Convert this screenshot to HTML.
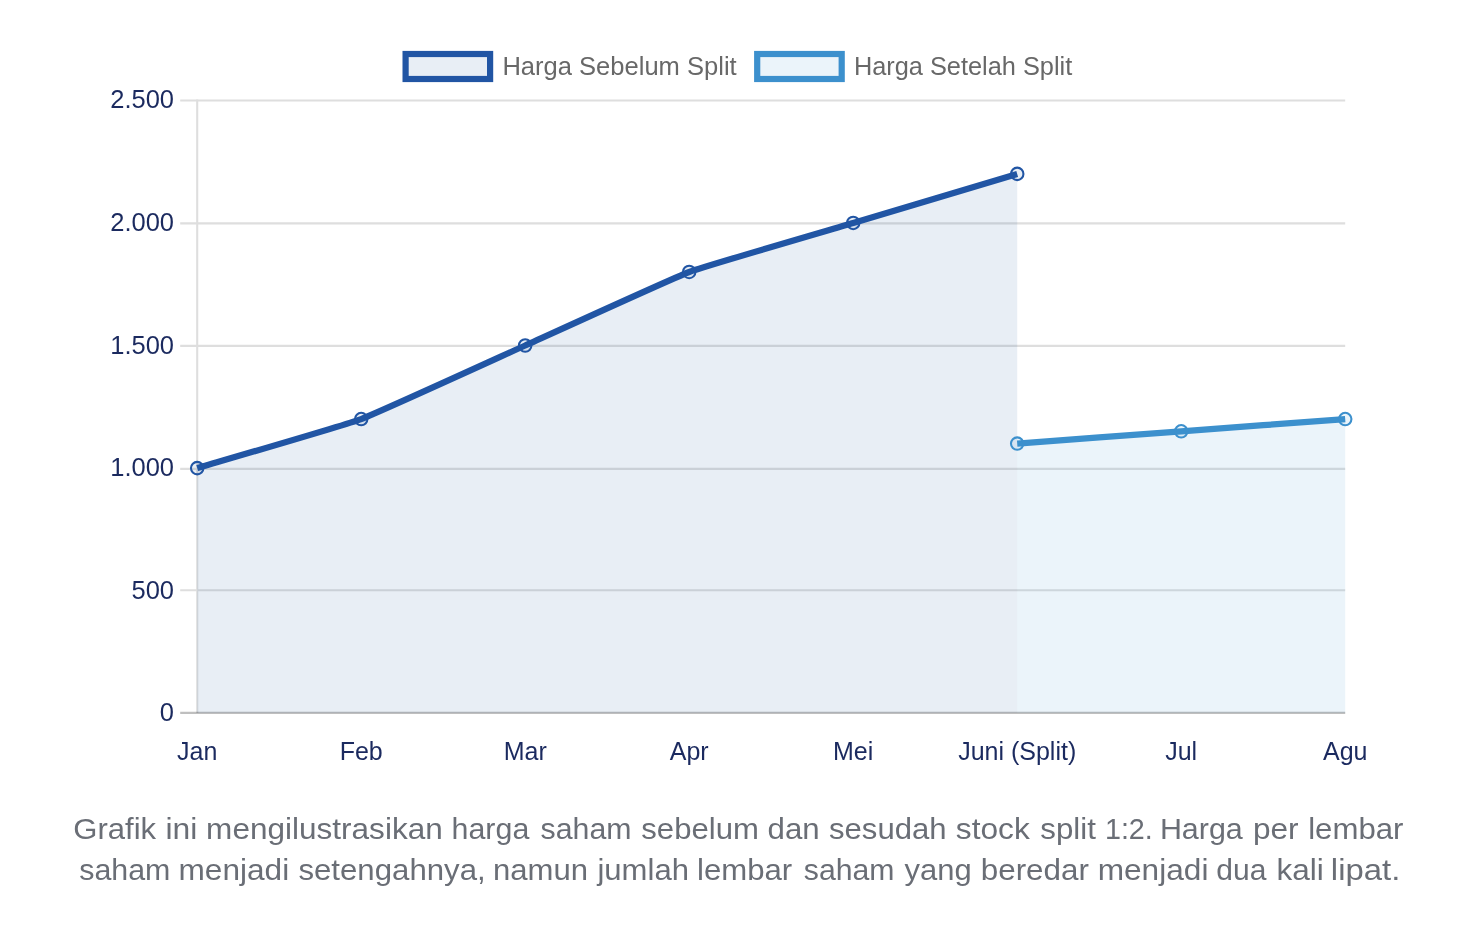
<!DOCTYPE html>
<html lang="id"><head><meta charset="utf-8"><title>Grafik Harga Saham Sebelum dan Sesudah Stock Split</title>
<style>
html,body{margin:0;padding:0;background:#fff;}
body{width:1476px;height:940px;overflow:hidden;}
svg{display:block;}
.tk{font-family:"Liberation Sans",Arial,Helvetica,sans-serif;font-size:25px;fill:#1b2a5f;}
.lg{font-family:"Liberation Sans",Arial,Helvetica,sans-serif;font-size:25px;fill:#686868;}
.cap{font-family:"Liberation Sans",Arial,Helvetica,sans-serif;font-size:30px;fill:#6a6e76;}
</style></head><body>
<svg width="1476" height="940" viewBox="0 0 1476 940">
<line x1="180.2" y1="590.30" x2="1345.20" y2="590.30" stroke="#dedede" stroke-width="2.08"/>
<line x1="180.2" y1="468.90" x2="1345.20" y2="468.90" stroke="#dedede" stroke-width="2.08"/>
<line x1="180.2" y1="345.90" x2="1345.20" y2="345.90" stroke="#dedede" stroke-width="2.08"/>
<line x1="180.2" y1="223.40" x2="1345.20" y2="223.40" stroke="#dedede" stroke-width="2.08"/>
<line x1="180.2" y1="100.45" x2="1345.20" y2="100.45" stroke="#dedede" stroke-width="2.08"/>
<line x1="197.20" y1="99.41" x2="197.20" y2="712.90" stroke="#dedede" stroke-width="2.08"/>
<path d="M1017.20,443.58 C1033.60,442.36 1164.80,432.55 1181.20,431.32 C1197.60,430.10 1328.80,420.29 1345.20,419.07 L1345.20,712.90 L1017.20,712.90 Z" fill="rgba(60,144,205,0.1)"/>
<path d="M197.20,468.10 C213.60,463.20 345.20,425.05 361.20,419.07 C378.00,412.79 508.80,352.87 525.20,345.51 C541.60,338.16 672.40,278.24 689.20,271.96 C705.20,265.98 836.80,227.83 853.20,222.93 C869.60,218.03 1000.80,178.80 1017.20,173.90 L1017.20,712.90 L197.20,712.90 Z" fill="rgba(34,84,160,0.1)"/>
<line x1="180.2" y1="712.90" x2="1345.20" y2="712.90" stroke="rgba(0,0,0,0.25)" stroke-width="2.08"/>
<path d="M1017.20,443.58 C1033.60,442.36 1164.80,432.55 1181.20,431.32 C1197.60,430.10 1328.80,420.29 1345.20,419.07" fill="none" stroke="#3c90cd" stroke-width="6.24" stroke-linejoin="miter" stroke-linecap="butt"/>
<path d="M197.20,468.10 C213.60,463.20 345.20,425.05 361.20,419.07 C378.00,412.79 508.80,352.87 525.20,345.51 C541.60,338.16 672.40,278.24 689.20,271.96 C705.20,265.98 836.80,227.83 853.20,222.93 C869.60,218.03 1000.80,178.80 1017.20,173.90" fill="none" stroke="#2155a4" stroke-width="6.24" stroke-linejoin="miter" stroke-linecap="butt"/>
<circle cx="1017.20" cy="443.58" r="6.24" fill="rgba(60,144,205,0.1)" stroke="#3c90cd" stroke-width="2.08"/>
<circle cx="1181.20" cy="431.32" r="6.24" fill="rgba(60,144,205,0.1)" stroke="#3c90cd" stroke-width="2.08"/>
<circle cx="1345.20" cy="419.07" r="6.24" fill="rgba(60,144,205,0.1)" stroke="#3c90cd" stroke-width="2.08"/>
<circle cx="197.20" cy="468.10" r="6.24" fill="rgba(34,84,160,0.1)" stroke="#2155a4" stroke-width="2.08"/>
<circle cx="361.20" cy="419.07" r="6.24" fill="rgba(34,84,160,0.1)" stroke="#2155a4" stroke-width="2.08"/>
<circle cx="525.20" cy="345.51" r="6.24" fill="rgba(34,84,160,0.1)" stroke="#2155a4" stroke-width="2.08"/>
<circle cx="689.20" cy="271.96" r="6.24" fill="rgba(34,84,160,0.1)" stroke="#2155a4" stroke-width="2.08"/>
<circle cx="853.20" cy="222.93" r="6.24" fill="rgba(34,84,160,0.1)" stroke="#2155a4" stroke-width="2.08"/>
<circle cx="1017.20" cy="173.90" r="6.24" fill="rgba(34,84,160,0.1)" stroke="#2155a4" stroke-width="2.08"/>
<text x="174.02" y="721.27" text-anchor="end" class="tk" textLength="14.18" lengthAdjust="spacingAndGlyphs">0</text>
<text x="174.02" y="598.68" text-anchor="end" class="tk" textLength="42.55" lengthAdjust="spacingAndGlyphs">500</text>
<text x="174.02" y="476.10" text-anchor="end" class="tk" textLength="63.81" lengthAdjust="spacingAndGlyphs">1.000</text>
<text x="174.02" y="353.51" text-anchor="end" class="tk" textLength="63.81" lengthAdjust="spacingAndGlyphs">1.500</text>
<text x="174.02" y="230.93" text-anchor="end" class="tk" textLength="63.81" lengthAdjust="spacingAndGlyphs">2.000</text>
<text x="174.02" y="108.35" text-anchor="end" class="tk" textLength="63.81" lengthAdjust="spacingAndGlyphs">2.500</text>
<text x="197.20" y="759.7" text-anchor="middle" class="tk">Jan</text>
<text x="361.20" y="759.7" text-anchor="middle" class="tk">Feb</text>
<text x="525.20" y="759.7" text-anchor="middle" class="tk">Mar</text>
<text x="689.20" y="759.7" text-anchor="middle" class="tk">Apr</text>
<text x="853.20" y="759.7" text-anchor="middle" class="tk">Mei</text>
<text x="1017.20" y="759.7" text-anchor="middle" class="tk">Juni (Split)</text>
<text x="1181.20" y="759.7" text-anchor="middle" class="tk">Jul</text>
<text x="1345.20" y="759.7" text-anchor="middle" class="tk">Agu</text>
<rect x="405.6" y="54" width="84.5" height="25" fill="rgba(34,84,160,0.1)" stroke="#2155a4" stroke-width="6.2"/>
<text x="502.4" y="74.8" class="lg" textLength="234.3" lengthAdjust="spacingAndGlyphs">Harga Sebelum Split</text>
<rect x="757.2" y="54" width="84.5" height="25" fill="rgba(60,144,205,0.1)" stroke="#3c90cd" stroke-width="6.2"/>
<text x="853.9" y="74.8" class="lg" textLength="218.3" lengthAdjust="spacingAndGlyphs">Harga Setelah Split</text>
<text y="839.3" class="cap"><tspan x="73.34" textLength="82.82" lengthAdjust="spacingAndGlyphs">Grafik</tspan> <tspan x="165.47" textLength="31.88" lengthAdjust="spacingAndGlyphs">ini</tspan> <tspan x="206.11" textLength="236.64" lengthAdjust="spacingAndGlyphs">mengilustrasikan</tspan> <tspan x="451.59" textLength="77.71" lengthAdjust="spacingAndGlyphs">harga</tspan> <tspan x="540.56" textLength="90.94" lengthAdjust="spacingAndGlyphs">saham</tspan> <tspan x="641.33" textLength="117.51" lengthAdjust="spacingAndGlyphs">sebelum</tspan> <tspan x="767.59" textLength="52.14" lengthAdjust="spacingAndGlyphs">dan</tspan> <tspan x="829.03" textLength="117.59" lengthAdjust="spacingAndGlyphs">sesudah</tspan> <tspan x="955.82" textLength="73.94" lengthAdjust="spacingAndGlyphs">stock</tspan> <tspan x="1040.33" textLength="55.60" lengthAdjust="spacingAndGlyphs">split</tspan> <tspan x="1104.91" textLength="47.91" lengthAdjust="spacingAndGlyphs">1:2.</tspan> <tspan x="1159.90" textLength="82.90" lengthAdjust="spacingAndGlyphs">Harga</tspan> <tspan x="1252.96" textLength="45.66" lengthAdjust="spacingAndGlyphs">per</tspan> <tspan x="1308.20" textLength="95.32" lengthAdjust="spacingAndGlyphs">lembar</tspan></text>
<text y="880.3" class="cap"><tspan x="79.25" textLength="91.15" lengthAdjust="spacingAndGlyphs">saham</tspan> <tspan x="178.50" textLength="110.73" lengthAdjust="spacingAndGlyphs">menjadi</tspan> <tspan x="298.43" textLength="187.27" lengthAdjust="spacingAndGlyphs">setengahnya,</tspan> <tspan x="493.03" textLength="95.08" lengthAdjust="spacingAndGlyphs">namun</tspan> <tspan x="597.46" textLength="91.46" lengthAdjust="spacingAndGlyphs">jumlah</tspan> <tspan x="697.00" textLength="95.22" lengthAdjust="spacingAndGlyphs">lembar</tspan> <tspan x="803.86" textLength="90.63" lengthAdjust="spacingAndGlyphs">saham</tspan> <tspan x="904.62" textLength="67.17" lengthAdjust="spacingAndGlyphs">yang</tspan> <tspan x="980.78" textLength="108.14" lengthAdjust="spacingAndGlyphs">beredar</tspan> <tspan x="1097.70" textLength="110.73" lengthAdjust="spacingAndGlyphs">menjadi</tspan> <tspan x="1216.34" textLength="50.06" lengthAdjust="spacingAndGlyphs">dua</tspan> <tspan x="1276.47" textLength="47.35" lengthAdjust="spacingAndGlyphs">kali</tspan> <tspan x="1330.89" textLength="69.41" lengthAdjust="spacingAndGlyphs">lipat.</tspan></text>
</svg>
</body></html>
